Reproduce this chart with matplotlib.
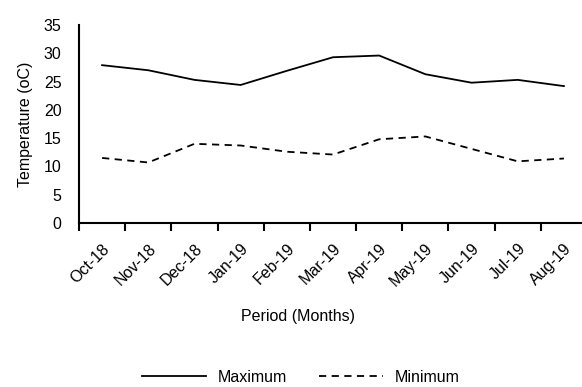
import matplotlib.pyplot as plt
import numpy as np

months = ["Oct-18", "Nov-18", "Dec-18", "Jan-19", "Feb-19", "Mar-19",
          "Apr-19", "May-19", "Jun-19", "Jul-19", "Aug-19"]
t_max = [27.9, 27.0, 25.3, 24.4, 26.9, 29.3, 29.6, 26.3, 24.8, 25.3, 24.2]
t_min = [11.5, 10.7, 14.0, 13.7, 12.6, 12.1, 14.8, 15.3, 13.1, 10.9, 11.4]

plt.rcParams['font.family'] = ['Liberation Sans', 'DejaVu Sans']
fs = 11.5

fig = plt.figure(figsize=(5.82, 3.87), dpi=100)
ax = fig.add_axes([79 / 582, 1 - 223 / 387, 508 / 582, 198 / 387])

x = np.arange(len(months))
l1, = ax.plot(x, t_max, color="black", lw=1.3, label="Maximum")
l2, = ax.plot(x, t_min, color="black", lw=1.3, ls=(0, (4, 3)), label="Minimum")

ax.set_xlim(-0.5, len(months) - 0.5)
ax.set_ylim(0, 35)
ax.set_yticks(range(0, 36, 5))
ax.tick_params(axis="y", length=0, pad=12.5, labelsize=fs)

ax.set_xticks(x)
ax.set_xticklabels(months, rotation=45, ha="right", rotation_mode="anchor", fontsize=fs)
ax.tick_params(axis="x", which="major", length=0, pad=13)
ax.set_xticks(np.arange(-0.5, len(months), 1), minor=True)
ax.tick_params(axis="x", which="minor", length=6, width=1.5, direction="out")

for s in ["top", "right"]:
    ax.spines[s].set_visible(False)
for s in ["left", "bottom"]:
    ax.spines[s].set_linewidth(1.5)

ax.set_ylabel("Temperature (oC)", fontsize=fs, labelpad=8)
fig.text(298 / 582, 1 - 317 / 387, "Period (Months)", ha="center", va="center", fontsize=fs)

fig.legend(handles=[l1, l2], loc="center", bbox_to_anchor=(301 / 582, 1 - 377 / 387),
           ncol=2, frameon=False, fontsize=fs, handlelength=4, columnspacing=2.0,
           handletextpad=0.75, borderpad=0)

fig.savefig("out.png", dpi=100)
